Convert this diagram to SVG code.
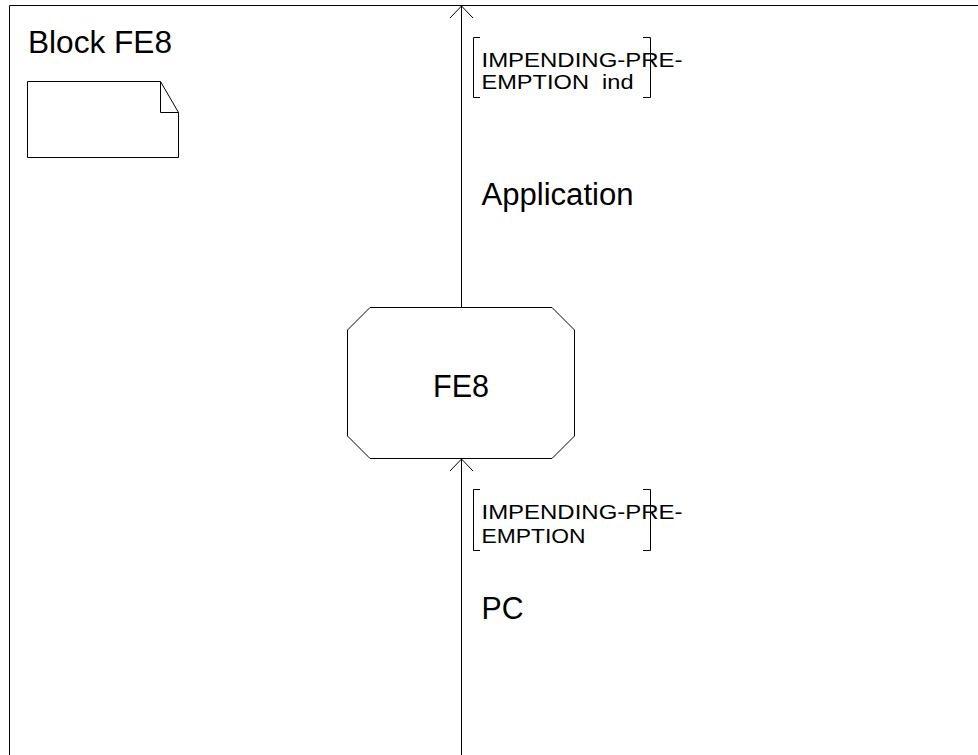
<svg xmlns="http://www.w3.org/2000/svg" width="978" height="755" viewBox="0 0 978 755">
<style>
.ln{fill:none;stroke:#000;stroke-width:1}
.big{font-family:"Liberation Sans",Arial,sans-serif;font-size:31px;fill:#000}
.sm{font-family:"Liberation Sans",Arial,sans-serif;font-size:20px;fill:#000}
</style>
<rect width="978" height="755" fill="#fff"/>
<g id="frame">
<path class="ln" d="M9.5,755 V5.5 H978" stroke="#555" stroke-width="1.5"/>
<text class="big" x="28" y="53" textLength="144" lengthAdjust="spacingAndGlyphs">Block FE8</text>
</g>
<g id="page-symbol">
<path class="ln" d="M27.5,81.5 H160.5 L178.5,112.5 V157.5 H27.5 Z M160.5,81.5 V112.5 H178.5"/>
</g>
<g id="FE8">
<path class="ln" d="M370,307.5 H552 L574.5,330 V436 L552,458.5 H370 L347.5,436 V330 Z"/>
<text class="big" x="433" y="397" textLength="56" lengthAdjust="spacingAndGlyphs">FE8</text>
</g>
<g id="connectors">
<g id="conn-application">
<path class="ln" d="M461.5,307 V6"/>
<path class="ln" d="M450,18 L461.5,6 L473,18"/>
</g>
<g id="conn-pc">
<path class="ln" d="M461.5,755 V459"/>
<path class="ln" d="M450,471 L461.5,459 L473,471"/>
</g>
</g>
<g id="label-top">
<path class="ln" d="M480,37.5 H473.5 V97.5 H480 M643,37.5 H650.5 V97.5 H643"/>
<text class="sm" x="481.5" y="67" textLength="201" lengthAdjust="spacingAndGlyphs">IMPENDING-PRE-</text>
<text class="sm" x="481.5" y="89" textLength="152" lengthAdjust="spacingAndGlyphs" xml:space="preserve">EMPTION  ind</text>
<text class="big" x="481.5" y="205" textLength="152" lengthAdjust="spacingAndGlyphs">Application</text>
</g>
<g id="label-bottom">
<path class="ln" d="M480,489.5 H473.5 V550.5 H480 M643,489.5 H650.5 V550.5 H643"/>
<text class="sm" x="481.5" y="518.5" textLength="201" lengthAdjust="spacingAndGlyphs">IMPENDING-PRE-</text>
<text class="sm" x="481.5" y="542.5" textLength="104" lengthAdjust="spacingAndGlyphs">EMPTION</text>
<text class="big" x="481.5" y="619" textLength="42" lengthAdjust="spacingAndGlyphs">PC</text>
</g>
</svg>
